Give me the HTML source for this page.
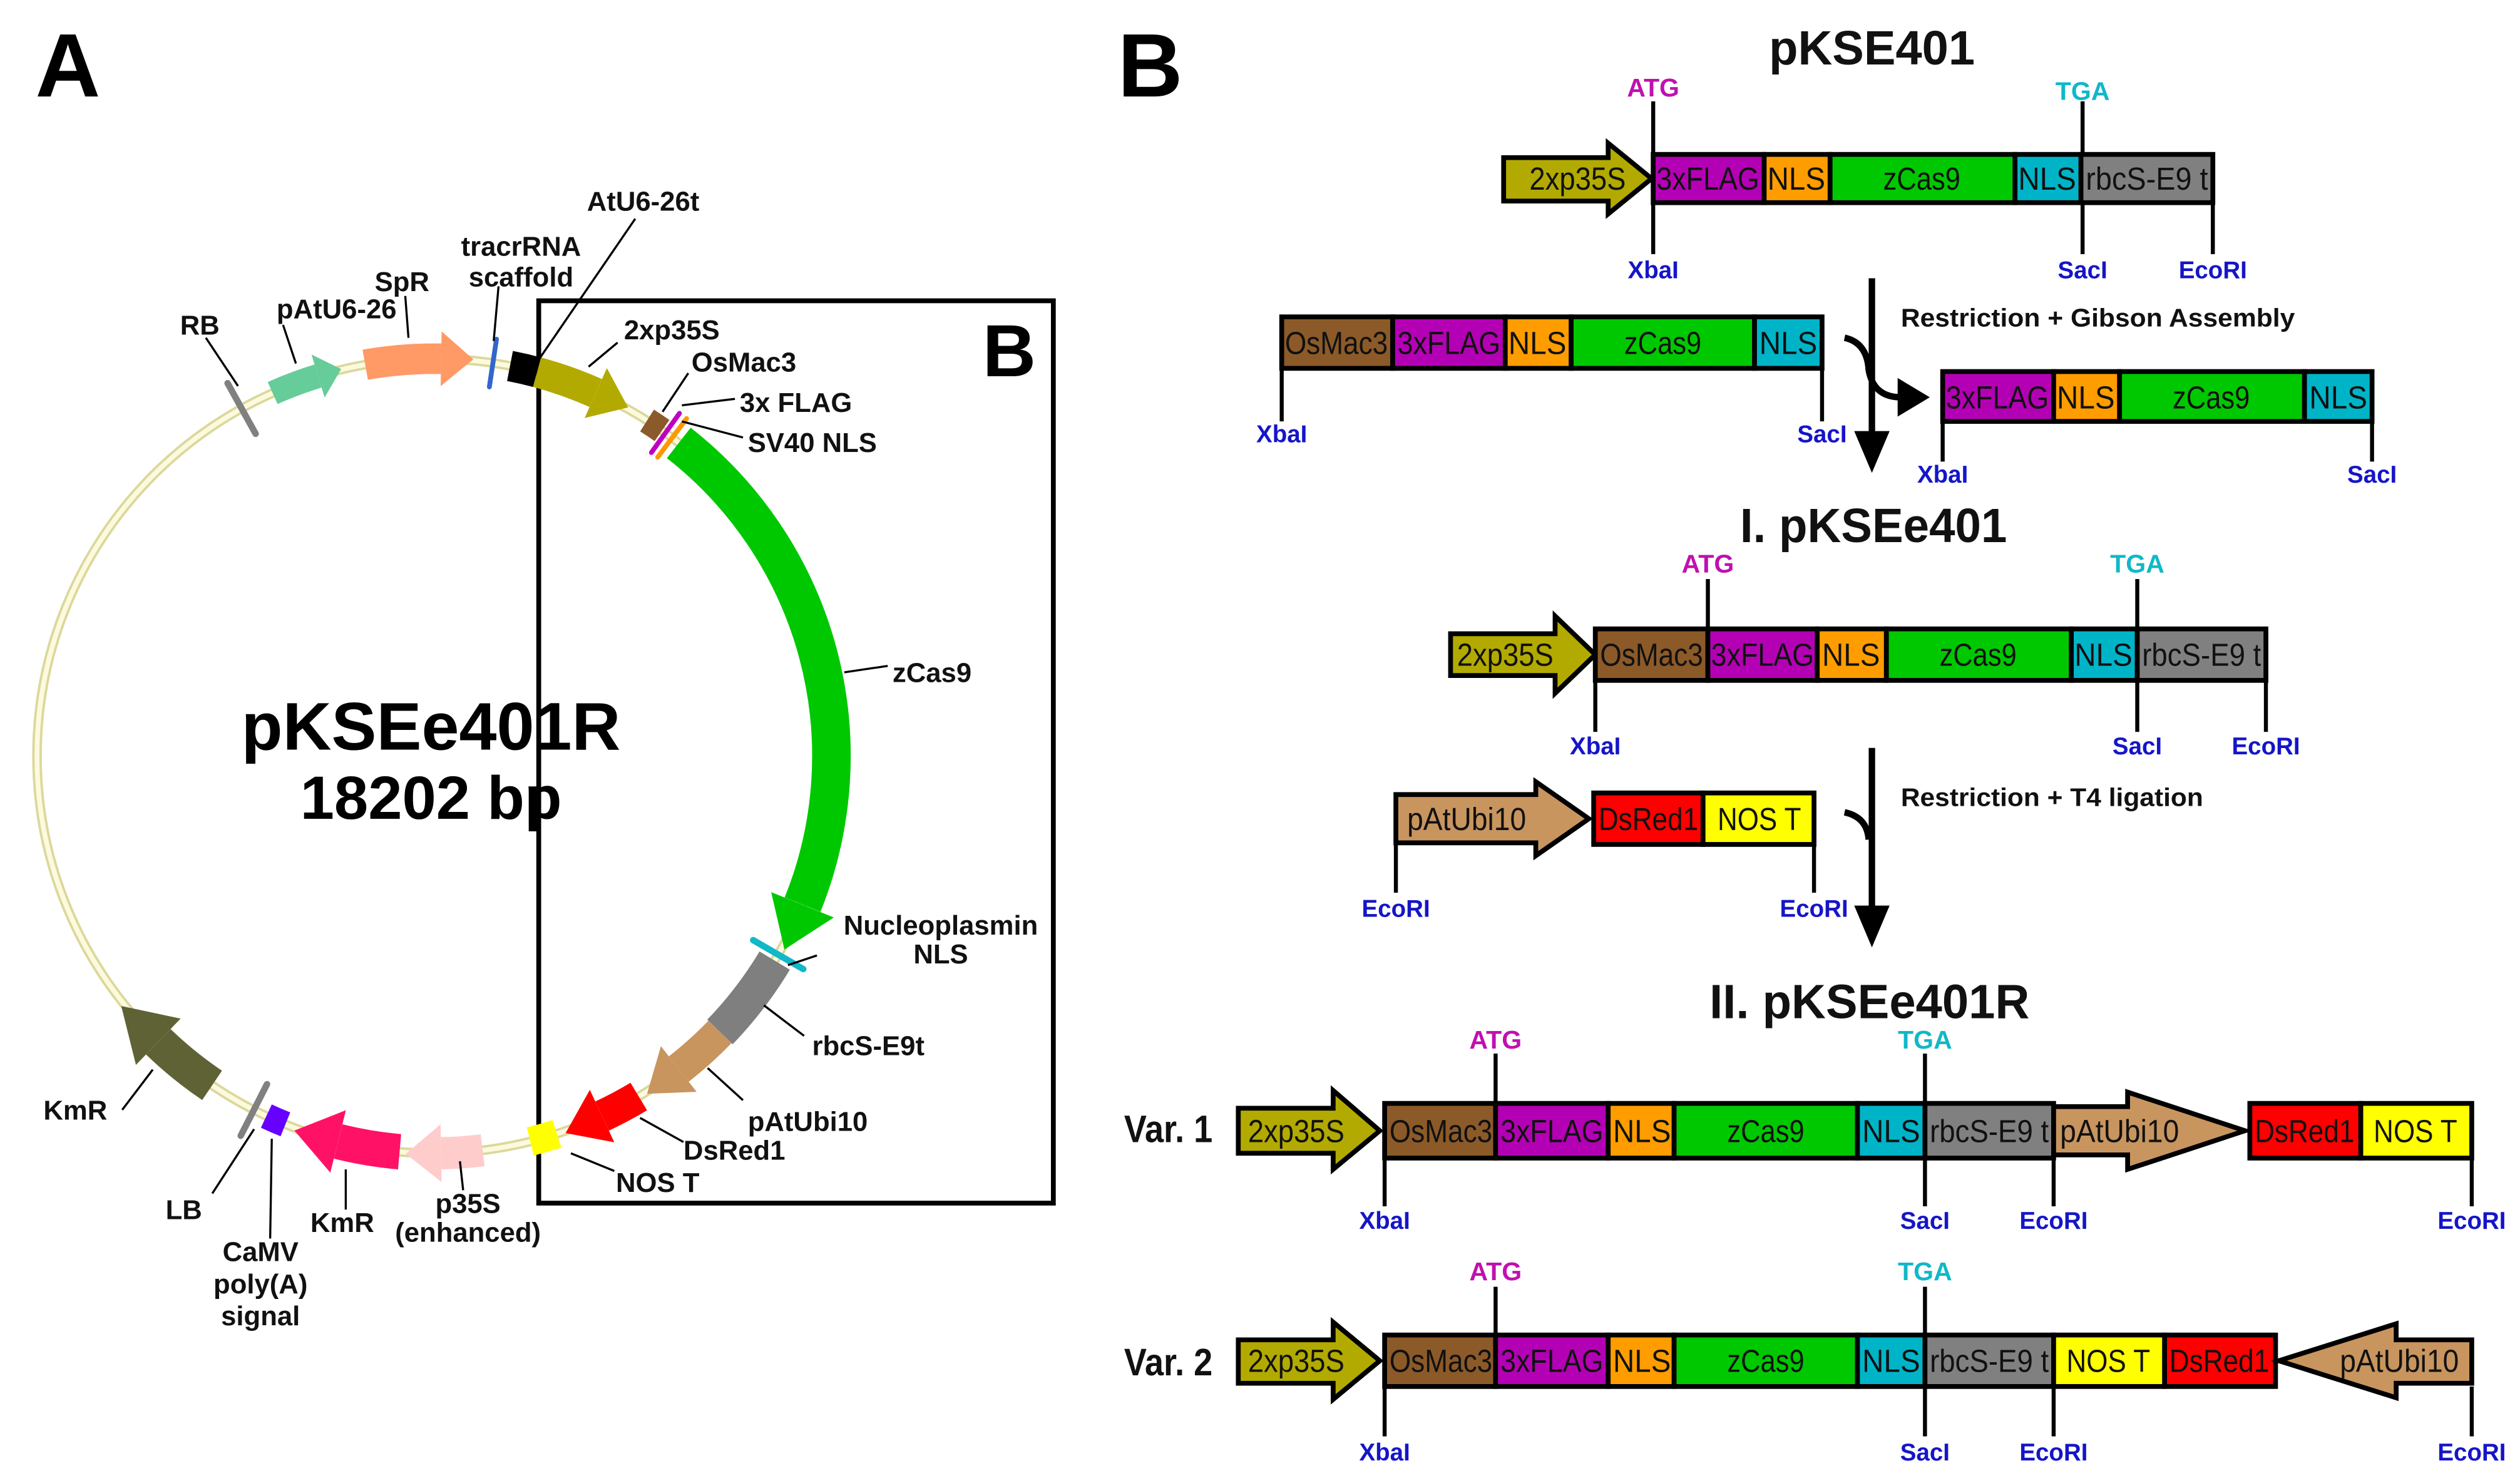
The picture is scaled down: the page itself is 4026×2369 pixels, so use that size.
<!DOCTYPE html>
<html><head><meta charset="utf-8"><style>
html,body{margin:0;padding:0;background:#fff;}
svg{display:block;}
.a{font-family:"Liberation Sans",sans-serif;font-weight:bold;font-size:17px;fill:#111;}
.n{font-family:"Liberation Sans Narrow","Liberation Sans",sans-serif;font-weight:bold;}
.s{font-family:"Liberation Sans Narrow","Liberation Sans",sans-serif;font-size:20px;fill:#111;}
.e{font-family:"Liberation Sans Narrow","Liberation Sans",sans-serif;font-size:15px;font-weight:bold;fill:#1515c8;}
.atg{font-family:"Liberation Sans Narrow","Liberation Sans",sans-serif;font-size:16px;font-weight:bold;fill:#c010b0;}
.tga{font-family:"Liberation Sans Narrow","Liberation Sans",sans-serif;font-size:16px;font-weight:bold;fill:#10b8c8;}
</style></head><body>
<svg width="4026" height="2369" viewBox="0 0 1567 922" preserveAspectRatio="none" xmlns="http://www.w3.org/2000/svg">
<rect width="1567" height="922" fill="#fff"/>
<text x="22" y="60" style="font-family:'Liberation Sans',sans-serif;font-weight:bold;font-size:56px">A</text>
<text x="695" y="60" style="font-family:'Liberation Sans',sans-serif;font-weight:bold;font-size:56px">B</text>

<g fill="none">
<circle cx="270" cy="470" r="247" stroke="#dcd89c" stroke-width="6"/>
<circle cx="270" cy="470" r="247" stroke="#fcfade" stroke-width="3"/>
</g>
<rect x="335" y="187" width="320" height="561" fill="none" stroke="#000" stroke-width="3"/>
<text x="611" y="234" style="font-family:'Liberation Sans',sans-serif;font-weight:bold;font-size:46px">B</text>

<g fill="none">
<circle cx="270" cy="470" r="247" pathLength="360" stroke="#66cc99" stroke-width="15" stroke-dasharray="7 1000" transform="rotate(-114 270 470)"/>
<polygon fill="#66cc99" points="270,209 285,223 270,237" transform="rotate(-17 270 470)"/>
<circle cx="270" cy="470" r="247" pathLength="360" stroke="#ff9966" stroke-width="19" stroke-dasharray="11 1000" transform="rotate(-100 270 470)"/>
<polygon fill="#ff9966" points="270,206 290,223 270,240" transform="rotate(1 270 470)"/>
<circle cx="270" cy="470" r="247" pathLength="360" stroke="#b2aa00" stroke-width="19" stroke-dasharray="9 1000" transform="rotate(-75 270 470)"/>
<polygon fill="#b2aa00" points="270,206 292,223 270,240" transform="rotate(24 270 470)"/>
<circle cx="270" cy="470" r="247" pathLength="360" stroke="#000" stroke-width="19" stroke-dasharray="4 1000" transform="rotate(-79 270 470)"/>
<circle cx="270" cy="470" r="247" pathLength="360" stroke="#8b5a2b" stroke-width="16" stroke-dasharray="2.6 1000" transform="rotate(-57.6 270 470)"/>
<circle cx="270" cy="470" r="247" pathLength="360" stroke="#00c800" stroke-width="24" stroke-dasharray="74 1000" transform="rotate(-52 270 470)"/>
<polygon fill="#00c800" points="270,202 300,223 270,244" transform="rotate(112 270 470)"/>
<circle cx="270" cy="470" r="247" pathLength="360" stroke="#7f7f7f" stroke-width="22" stroke-dasharray="13 1000" transform="rotate(31 270 470)"/>
<circle cx="270" cy="470" r="247" pathLength="360" stroke="#c8955f" stroke-width="20" stroke-dasharray="8 1000" transform="rotate(44 270 470)"/>
<polygon fill="#c8955f" points="270,205 295,223 270,241" transform="rotate(142 270 470)"/>
<circle cx="270" cy="470" r="247" pathLength="360" stroke="#ff0000" stroke-width="20" stroke-dasharray="6 1000" transform="rotate(59 270 470)"/>
<polygon fill="#ff0000" points="270,205 295,223 270,241" transform="rotate(155 270 470)"/>
<circle cx="270" cy="470" r="247" pathLength="360" stroke="#ffff00" stroke-width="18" stroke-dasharray="4 1000" transform="rotate(72 270 470)"/>
<circle cx="270" cy="470" r="247" pathLength="360" stroke="#ffcccc" stroke-width="20" stroke-dasharray="6 1000" transform="rotate(83 270 470)"/>
<polygon fill="#ffcccc" points="270,205 292,223 270,241" transform="rotate(179 270 470)"/>
<circle cx="270" cy="470" r="247" pathLength="360" stroke="#ff1166" stroke-width="22" stroke-dasharray="9 1000" transform="rotate(95 270 470)"/>
<polygon fill="#ff1166" points="270,203 298,223 270,243" transform="rotate(194 270 470)"/>
<circle cx="270" cy="470" r="247" pathLength="360" stroke="#6600ff" stroke-width="16" stroke-dasharray="3 1000" transform="rotate(112 270 470)"/>
<circle cx="270" cy="470" r="247" pathLength="360" stroke="#5f6234" stroke-width="22" stroke-dasharray="10 1000" transform="rotate(124 270 470)"/>
<polygon fill="#5f6234" points="270,203 302,223 270,243" transform="rotate(224 270 470)"/>
</g>
<g stroke-linecap="round">
<line x1="270" y1="205" x2="270" y2="241" stroke="#808080" stroke-width="4" transform="rotate(-29 270 470)"/>
<line x1="270" y1="208" x2="270" y2="238" stroke="#3366cc" stroke-width="3" transform="rotate(8.5 270 470)"/>
<line x1="270" y1="208" x2="270" y2="238" stroke="#c000c0" stroke-width="3" transform="rotate(35.6 270 470)"/>
<line x1="270" y1="208" x2="270" y2="238" stroke="#ff9900" stroke-width="3" transform="rotate(36.8 270 470)"/>
<line x1="270" y1="205" x2="270" y2="241" stroke="#10b8c8" stroke-width="4" transform="rotate(120 270 470)"/>
<line x1="270" y1="205" x2="270" y2="241" stroke="#808080" stroke-width="4" transform="rotate(207 270 470)"/>
</g>
<g stroke="#000" stroke-width="1.3">
<line x1="395" y1="136" x2="332" y2="228"/>
<line x1="310" y1="178" x2="307" y2="212"/>
<line x1="252" y1="184" x2="254" y2="210"/>
<line x1="176" y1="202" x2="184" y2="226"/>
<line x1="128" y1="210" x2="148" y2="240"/>
<line x1="384" y1="213" x2="366" y2="228"/>
<line x1="428" y1="232" x2="412" y2="256"/>
<line x1="457" y1="248" x2="424" y2="252"/>
<line x1="462" y1="272" x2="424" y2="262"/>
<line x1="552" y1="414" x2="525" y2="418"/>
<line x1="508" y1="594" x2="490" y2="600"/>
<line x1="500" y1="644" x2="475" y2="625"/>
<line x1="462" y1="684" x2="440" y2="664"/>
<line x1="425" y1="710" x2="398" y2="695"/>
<line x1="382" y1="728" x2="355" y2="717"/>
<line x1="288" y1="740" x2="286" y2="722"/>
<line x1="215" y1="752" x2="215" y2="727"/>
<line x1="168" y1="770" x2="169" y2="708"/>
<line x1="132" y1="742" x2="158" y2="702"/>
<line x1="76" y1="690" x2="95" y2="665"/>
</g>
<g class="a">
<text x="365" y="131">AtU6-26t</text>
<text x="324" y="159" text-anchor="middle">tracrRNA</text>
<text x="324" y="178" text-anchor="middle">scaffold</text>
<text x="233" y="181">SpR</text>
<text x="172" y="198">pAtU6-26</text>
<text x="112" y="208">RB</text>
<text x="388" y="211">2xp35S</text>
<text x="430" y="231">OsMac3</text>
<text x="460" y="256">3x FLAG</text>
<text x="465" y="281">SV40 NLS</text>
<text x="555" y="424">zCas9</text>
<text x="585" y="581" text-anchor="middle">Nucleoplasmin</text>
<text x="585" y="599" text-anchor="middle">NLS</text>
<text x="505" y="656">rbcS-E9t</text>
<text x="465" y="703">pAtUbi10</text>
<text x="425" y="721">DsRed1</text>
<text x="383" y="741">NOS T</text>
<text x="291" y="754" text-anchor="middle">p35S</text>
<text x="291" y="772" text-anchor="middle">(enhanced)</text>
<text x="193" y="766">KmR</text>
<text x="162" y="784" text-anchor="middle">CaMV</text>
<text x="162" y="804" text-anchor="middle">poly(A)</text>
<text x="162" y="824" text-anchor="middle">signal</text>
<text x="103" y="758">LB</text>
<text x="27" y="696">KmR</text>
</g>
<text x="268" y="466" text-anchor="middle" style="font-family:'Liberation Sans',sans-serif;font-weight:bold;font-size:42px">pKSEe401R</text>
<text x="268" y="509" text-anchor="middle" style="font-family:'Liberation Sans',sans-serif;font-weight:bold;font-size:38px">18202 bp</text>

<g class="n" font-size="30" fill="#111">
<text x="1100" y="40" textLength="128" lengthAdjust="spacingAndGlyphs">pKSE401</text>
<text x="1082" y="337" textLength="166" lengthAdjust="spacingAndGlyphs">I. pKSEe401</text>
<text x="1063" y="633" textLength="199" lengthAdjust="spacingAndGlyphs">II. pKSEe401R</text>
</g>
<g class="n" font-size="16" fill="#111">
<text x="1182" y="203" textLength="245" lengthAdjust="spacingAndGlyphs">Restriction + Gibson Assembly</text>
<text x="1182" y="501" textLength="188" lengthAdjust="spacingAndGlyphs">Restriction + T4 ligation</text>
</g>
<g class="n" font-size="24" fill="#111">
<text x="699" y="710" textLength="55" lengthAdjust="spacingAndGlyphs">Var. 1</text>
<text x="699" y="855" textLength="55" lengthAdjust="spacingAndGlyphs">Var. 2</text>
</g>

<g stroke="#000" stroke-width="2.5">
<line x1="1028" y1="63" x2="1028" y2="158"/><line x1="1295" y1="63" x2="1295" y2="158"/><line x1="1376" y1="126" x2="1376" y2="158"/>
<line x1="797" y1="229" x2="797" y2="262"/><line x1="1133" y1="229" x2="1133" y2="262"/>
<line x1="1208" y1="262" x2="1208" y2="287"/><line x1="1475" y1="262" x2="1475" y2="287"/>
<line x1="1062" y1="360" x2="1062" y2="391"/><line x1="1329" y1="360" x2="1329" y2="455"/><line x1="992" y1="423" x2="992" y2="455"/><line x1="1409" y1="423" x2="1409" y2="455"/>
<line x1="868" y1="525" x2="868" y2="555"/><line x1="1128" y1="525" x2="1128" y2="555"/>
<line x1="930" y1="655" x2="930" y2="686"/><line x1="1197" y1="655" x2="1197" y2="750"/><line x1="861" y1="720" x2="861" y2="750"/><line x1="1277" y1="720" x2="1277" y2="750"/><line x1="1537" y1="720" x2="1537" y2="750"/>
<line x1="930" y1="800" x2="930" y2="830"/><line x1="1197" y1="800" x2="1197" y2="893"/><line x1="861" y1="862" x2="861" y2="893"/><line x1="1277" y1="862" x2="1277" y2="893"/><line x1="1537" y1="862" x2="1537" y2="893"/>
</g>

<g stroke="#000" stroke-width="3" stroke-linejoin="miter">
<polygon fill="#b2aa00" points="935,98 1000,98 1000,89 1027,111 1000,133 1000,125 935,125"/>
<rect x="1028" y="96" width="69" height="30" fill="#b400b4"/>
<rect x="1097" y="96" width="41" height="30" fill="#ff9d00"/>
<rect x="1138" y="96" width="115" height="30" fill="#00c800"/>
<rect x="1253" y="96" width="41" height="30" fill="#00b4c8"/>
<rect x="1294" y="96" width="82" height="30" fill="#808080"/>
<rect x="797" y="197" width="69" height="32" fill="#8c5a28"/>
<rect x="866" y="197" width="70" height="32" fill="#b400b4"/>
<rect x="936" y="197" width="41" height="32" fill="#ff9d00"/>
<rect x="977" y="197" width="114" height="32" fill="#00c800"/>
<rect x="1091" y="197" width="42" height="32" fill="#00b4c8"/>
<rect x="1208" y="231" width="69" height="31" fill="#b400b4"/>
<rect x="1277" y="231" width="41" height="31" fill="#ff9d00"/>
<rect x="1318" y="231" width="115" height="31" fill="#00c800"/>
<rect x="1433" y="231" width="42" height="31" fill="#00b4c8"/>
<polygon fill="#b2aa00" points="902,394 967,394 967,383 992,407 967,431 967,420 902,420"/>
<rect x="992" y="391" width="70" height="32" fill="#8c5a28"/>
<rect x="1062" y="391" width="68" height="32" fill="#b400b4"/>
<rect x="1130" y="391" width="43" height="32" fill="#ff9d00"/>
<rect x="1173" y="391" width="115" height="32" fill="#00c800"/>
<rect x="1288" y="391" width="41" height="32" fill="#00b4c8"/>
<rect x="1329" y="391" width="80" height="32" fill="#808080"/>
<polygon fill="#c8955f" points="868,494 955,494 955,486 988,509 955,532 955,524 868,524"/>
<rect x="991" y="493" width="68" height="32" fill="#ff0000"/>
<rect x="1059" y="493" width="69" height="32" fill="#ffff00"/>
<polygon fill="#b2aa00" points="770,689 829,689 829,678 858,703 829,727 829,717 770,717"/>
<rect x="861" y="686" width="69" height="34" fill="#8c5a28"/>
<rect x="930" y="686" width="70" height="34" fill="#b400b4"/>
<rect x="1000" y="686" width="41" height="34" fill="#ff9d00"/>
<rect x="1041" y="686" width="114" height="34" fill="#00c800"/>
<rect x="1155" y="686" width="42" height="34" fill="#00b4c8"/>
<rect x="1197" y="686" width="80" height="34" fill="#808080"/>
<polygon fill="#c8955f" points="1277,688 1323,688 1323,679 1396,703 1323,727 1323,718 1277,718"/>
<rect x="1399" y="686" width="69" height="34" fill="#ff0000"/>
<rect x="1468" y="686" width="69" height="34" fill="#ffff00"/>
<polygon fill="#b2aa00" points="770,833 829,833 829,822 858,846 829,870 829,860 770,860"/>
<rect x="861" y="830" width="69" height="32" fill="#8c5a28"/>
<rect x="930" y="830" width="70" height="32" fill="#b400b4"/>
<rect x="1000" y="830" width="41" height="32" fill="#ff9d00"/>
<rect x="1041" y="830" width="114" height="32" fill="#00c800"/>
<rect x="1155" y="830" width="42" height="32" fill="#00b4c8"/>
<rect x="1197" y="830" width="80" height="32" fill="#808080"/>
<rect x="1277" y="830" width="69" height="32" fill="#ffff00"/>
<rect x="1346" y="830" width="69" height="32" fill="#ff0000"/>
<polygon fill="#c8955f" points="1537,833 1490,833 1490,823 1417,846 1490,869 1490,860 1537,860"/>
</g>

<g stroke="#000" stroke-width="4" fill="none">
<line x1="1164" y1="173" x2="1164" y2="272"/>
<path d="M1147,210 Q1161,213 1162,230 Q1165,247 1182,247"/>
<line x1="1164" y1="465" x2="1164" y2="566"/>
<path d="M1147,505 Q1161,508 1162,522"/>
</g>
<polygon fill="#000" points="1153,268 1175,268 1164,294"/>
<polygon fill="#000" points="1180,235 1180,259 1200,247"/>
<polygon fill="#000" points="1153,563 1175,563 1164,589"/>

<g class="s" text-anchor="middle">
<text x="981" y="118" textLength="60" lengthAdjust="spacingAndGlyphs">2xp35S</text>
<text x="1062" y="118" textLength="64" lengthAdjust="spacingAndGlyphs">3xFLAG</text>
<text x="1117" y="118" textLength="36" lengthAdjust="spacingAndGlyphs">NLS</text>
<text x="1195" y="118" textLength="48" lengthAdjust="spacingAndGlyphs">zCas9</text>
<text x="1273" y="118" textLength="36" lengthAdjust="spacingAndGlyphs">NLS</text>
<text x="1335" y="118" textLength="76" lengthAdjust="spacingAndGlyphs">rbcS-E9 t</text>

<text x="831" y="220" textLength="64" lengthAdjust="spacingAndGlyphs">OsMac3</text>
<text x="901" y="220" textLength="64" lengthAdjust="spacingAndGlyphs">3xFLAG</text>
<text x="956" y="220" textLength="36" lengthAdjust="spacingAndGlyphs">NLS</text>
<text x="1034" y="220" textLength="48" lengthAdjust="spacingAndGlyphs">zCas9</text>
<text x="1112" y="220" textLength="36" lengthAdjust="spacingAndGlyphs">NLS</text>

<text x="1242" y="254" textLength="64" lengthAdjust="spacingAndGlyphs">3xFLAG</text>
<text x="1297" y="254" textLength="36" lengthAdjust="spacingAndGlyphs">NLS</text>
<text x="1375" y="254" textLength="48" lengthAdjust="spacingAndGlyphs">zCas9</text>
<text x="1454" y="254" textLength="36" lengthAdjust="spacingAndGlyphs">NLS</text>

<text x="936" y="414" textLength="60" lengthAdjust="spacingAndGlyphs">2xp35S</text>
<text x="1027" y="414" textLength="64" lengthAdjust="spacingAndGlyphs">OsMac3</text>
<text x="1096" y="414" textLength="64" lengthAdjust="spacingAndGlyphs">3xFLAG</text>
<text x="1151" y="414" textLength="36" lengthAdjust="spacingAndGlyphs">NLS</text>
<text x="1230" y="414" textLength="48" lengthAdjust="spacingAndGlyphs">zCas9</text>
<text x="1308" y="414" textLength="36" lengthAdjust="spacingAndGlyphs">NLS</text>
<text x="1369" y="414" textLength="74" lengthAdjust="spacingAndGlyphs">rbcS-E9 t</text>

<text x="912" y="516" textLength="74" lengthAdjust="spacingAndGlyphs">pAtUbi10</text>
<text x="1025" y="516" textLength="62" lengthAdjust="spacingAndGlyphs">DsRed1</text>
<text x="1094" y="516" textLength="52" lengthAdjust="spacingAndGlyphs">NOS T</text>

<text x="806" y="710" textLength="60" lengthAdjust="spacingAndGlyphs">2xp35S</text>
<text x="896" y="710" textLength="64" lengthAdjust="spacingAndGlyphs">OsMac3</text>
<text x="965" y="710" textLength="64" lengthAdjust="spacingAndGlyphs">3xFLAG</text>
<text x="1021" y="710" textLength="36" lengthAdjust="spacingAndGlyphs">NLS</text>
<text x="1098" y="710" textLength="48" lengthAdjust="spacingAndGlyphs">zCas9</text>
<text x="1176" y="710" textLength="36" lengthAdjust="spacingAndGlyphs">NLS</text>
<text x="1237" y="710" textLength="74" lengthAdjust="spacingAndGlyphs">rbcS-E9 t</text>
<text x="1318" y="710" textLength="74" lengthAdjust="spacingAndGlyphs">pAtUbi10</text>
<text x="1433" y="710" textLength="62" lengthAdjust="spacingAndGlyphs">DsRed1</text>
<text x="1502" y="710" textLength="52" lengthAdjust="spacingAndGlyphs">NOS T</text>

<text x="806" y="853" textLength="60" lengthAdjust="spacingAndGlyphs">2xp35S</text>
<text x="896" y="853" textLength="64" lengthAdjust="spacingAndGlyphs">OsMac3</text>
<text x="965" y="853" textLength="64" lengthAdjust="spacingAndGlyphs">3xFLAG</text>
<text x="1021" y="853" textLength="36" lengthAdjust="spacingAndGlyphs">NLS</text>
<text x="1098" y="853" textLength="48" lengthAdjust="spacingAndGlyphs">zCas9</text>
<text x="1176" y="853" textLength="36" lengthAdjust="spacingAndGlyphs">NLS</text>
<text x="1237" y="853" textLength="74" lengthAdjust="spacingAndGlyphs">rbcS-E9 t</text>
<text x="1311" y="853" textLength="52" lengthAdjust="spacingAndGlyphs">NOS T</text>
<text x="1380" y="853" textLength="62" lengthAdjust="spacingAndGlyphs">DsRed1</text>
<text x="1492" y="853" textLength="74" lengthAdjust="spacingAndGlyphs">pAtUbi10</text>
</g>

<g text-anchor="middle">
<text class="atg" x="1028" y="60">ATG</text>
<text class="tga" x="1295" y="62">TGA</text>
<text class="e" x="1028" y="173">XbaI</text>
<text class="e" x="1295" y="173">SacI</text>
<text class="e" x="1376" y="173">EcoRI</text>
<text class="e" x="797" y="275">XbaI</text>
<text class="e" x="1133" y="275">SacI</text>
<text class="e" x="1208" y="300">XbaI</text>
<text class="e" x="1475" y="300">SacI</text>
<text class="atg" x="1062" y="356">ATG</text>
<text class="tga" x="1329" y="356">TGA</text>
<text class="e" x="992" y="469">XbaI</text>
<text class="e" x="1329" y="469">SacI</text>
<text class="e" x="1409" y="469">EcoRI</text>
<text class="e" x="868" y="570">EcoRI</text>
<text class="e" x="1128" y="570">EcoRI</text>
<text class="atg" x="930" y="652">ATG</text>
<text class="tga" x="1197" y="652">TGA</text>
<text class="e" x="861" y="764">XbaI</text>
<text class="e" x="1197" y="764">SacI</text>
<text class="e" x="1277" y="764">EcoRI</text>
<text class="e" x="1537" y="764">EcoRI</text>
<text class="atg" x="930" y="796">ATG</text>
<text class="tga" x="1197" y="796">TGA</text>
<text class="e" x="861" y="908">XbaI</text>
<text class="e" x="1197" y="908">SacI</text>
<text class="e" x="1277" y="908">EcoRI</text>
<text class="e" x="1537" y="908">EcoRI</text>
</g>
</svg>
</body></html>
